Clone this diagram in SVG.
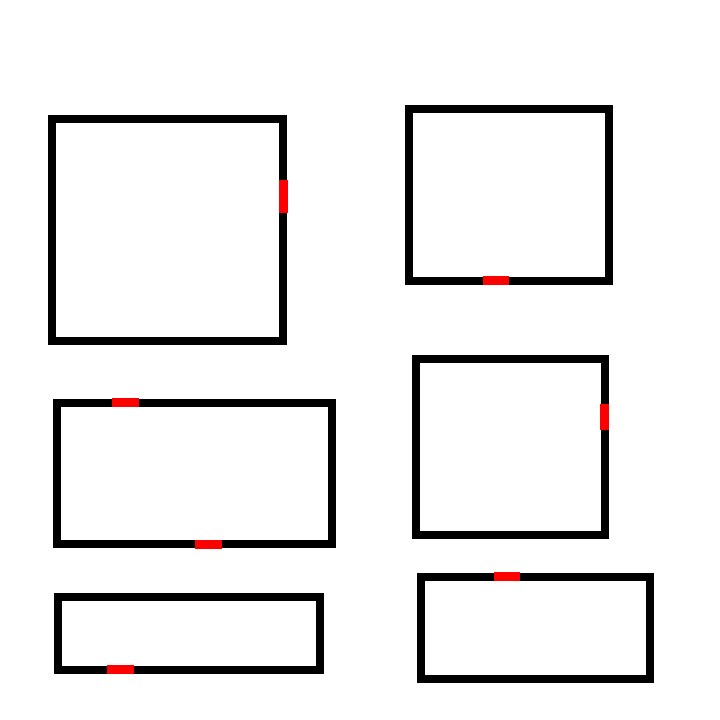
<svg xmlns="http://www.w3.org/2000/svg" width="720" height="720" viewBox="0 0 720 720">
<style>
.box{fill:none;stroke:#000;stroke-width:8}
.port{fill:#f00}
</style>
<rect width="720" height="720" fill="#fff"/>
<g id="node1"><rect class="box" x="52" y="119" width="231" height="222"/><rect class="port" x="279" y="180" width="9" height="33"/></g>
<g id="node2"><rect class="box" x="409" y="109" width="200" height="172"/><rect class="port" x="483" y="276" width="26" height="9"/></g>
<g id="node3"><rect class="box" x="57" y="403" width="275" height="141"/><rect class="port" x="112" y="398" width="27" height="9"/><rect class="port" x="195" y="540" width="27" height="9"/></g>
<g id="node4"><rect class="box" x="416" y="359" width="189" height="176"/><rect class="port" x="600" y="404" width="9" height="26"/></g>
<g id="node5"><rect class="box" x="58" y="597" width="262" height="73"/><rect class="port" x="107" y="665" width="27" height="9"/></g>
<g id="node6"><rect class="box" x="421" y="577" width="229" height="102"/><rect class="port" x="494" y="572" width="26" height="9"/></g>
<g id="connectors"></g>
</svg>
